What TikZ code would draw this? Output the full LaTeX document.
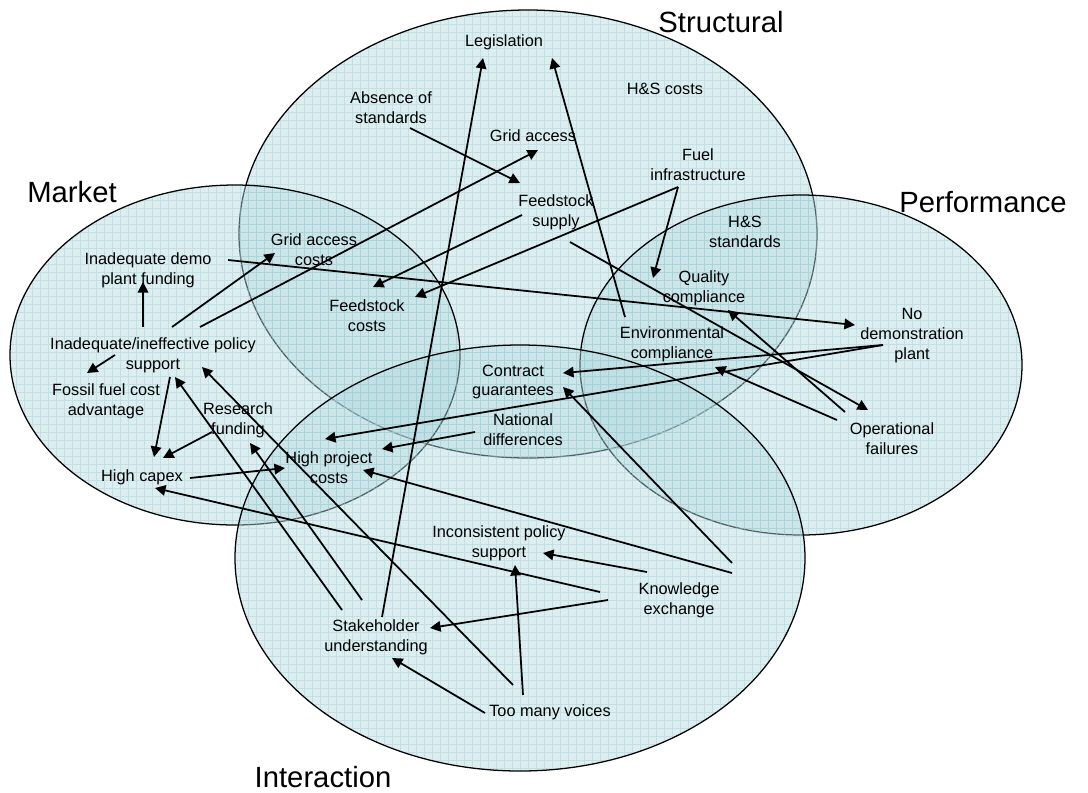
\documentclass[tikz,border=0pt]{standalone}
\usepackage{fontspec}
\setmainfont{Liberation Sans}
\usetikzlibrary{arrows.meta,calc}
\definecolor{zonefill}{RGB}{180,218,224}
\definecolor{zoneline}{RGB}{150,200,208}
\begin{document}
\begin{tikzpicture}[x=0.025cm, y=-0.025cm,
    zone/.style={fill=zonefill, fill opacity=0.45},
    zonegrid/.style={draw=zoneline, line width=0.3pt, opacity=0.4},
    rim/.style={draw=black, line width=0.9pt},
    factor/.style={align=center, inner sep=0pt, font=\fontsize{11.6}{14.2}\selectfont},
    zonelabel/.style={anchor=base, inner sep=0pt, font=\fontsize{20.8}{25}\selectfont},
    arrow/.style={-{Triangle[length=7.5pt,width=7.5pt]}, line width=1.25pt}
]
\useasboundingbox (0,0) rectangle (1088,792);

\fill[zone] (528,234) ellipse [x radius=289, y radius=224];
\begin{scope}
\clip (528,234) ellipse [x radius=289, y radius=224];
\draw[zonegrid] (0,792) grid[step=0.2cm] (1088,0);
\end{scope}
\draw[rim] (528,234) ellipse [x radius=289, y radius=224];

\fill[zone] (801,365) ellipse [x radius=221, y radius=170];
\begin{scope}
\clip (801,365) ellipse [x radius=221, y radius=170];
\draw[zonegrid] (0,792) grid[step=0.2cm] (1088,0);
\end{scope}
\draw[rim] (801,365) ellipse [x radius=221, y radius=170];

\fill[zone] (235,355) ellipse [x radius=225, y radius=170];
\begin{scope}
\clip (235,355) ellipse [x radius=225, y radius=170];
\draw[zonegrid] (0,792) grid[step=0.2cm] (1088,0);
\end{scope}
\draw[rim] (235,355) ellipse [x radius=225, y radius=170];

\fill[zone] (520,558) ellipse [x radius=285, y radius=213];
\begin{scope}
\clip (520,558) ellipse [x radius=285, y radius=213];
\draw[zonegrid] (0,792) grid[step=0.2cm] (1088,0);
\end{scope}
\draw[rim] (520,558) ellipse [x radius=285, y radius=213];

\node[zonelabel] (lmarket) at (72,202) {Market};
\node[zonelabel] (lstruct) at (721,32) {Structural};
\node[zonelabel] (lperf) at (983,212) {Performance};
\node[zonelabel] (linter) at (323,787) {Interaction};

\node[factor] (legis) at (504,42) {Legislation};
\node[factor] (hscost) at (665,89) {H\&S costs};
\node[factor] (absence) at (391,108) {Absence of\\standards};
\node[factor] (gridacc) at (533,136) {Grid access};
\node[factor] (fuelinf) at (698,165) {Fuel\\infrastructure};
\node[factor] (feedsup) at (556,212) {Feedstock\\supply};
\node[factor] (gridcost) at (314,250) {Grid access\\costs};
\node[factor] (demofund) at (148,270) {Inadequate demo\\plant funding};
\node[factor] (hsstd) at (745,232) {H\&S\\standards};
\node[factor] (feedcost) at (367,316) {Feedstock\\costs};
\node[factor] (quality) at (704,288) {Quality\\compliance};
\node[factor] (envcomp) at (672,344) {Environmental\\compliance};
\node[factor] (nodemo) at (912,336) {No\\demonstration\\plant};
\node[factor] (policy) at (153,355) {Inadequate/ineffective policy\\support};
\node[factor] (contract) at (513,382) {Contract\\guarantees};
\node[factor] (fossil) at (106,401) {Fossil fuel cost\\advantage};
\node[factor] (research) at (238,420) {Research\\funding};
\node[factor] (national) at (523,430) {National\\differences};
\node[factor] (opfail) at (892,439) {Operational\\failures};
\node[factor] (capex) at (142,477) {High capex};
\node[factor] (hpcost) at (329,468) {High project\\costs};
\node[factor] (inconsist) at (499,543) {Inconsistent policy\\support};
\node[factor] (knowledge) at (679,600) {Knowledge\\exchange};
\node[factor] (stake) at (376,637) {Stakeholder\\understanding};
\node[factor] (voices) at (550,712) {Too many voices};

\draw[arrow] ($(policy)+(-10,-28)$) -- ($(demofund)+(-5,12)$);
\draw[arrow] ($(policy)+(19,-28)$) -- ($(gridcost)+(-39,3)$);
\draw[arrow] ($(policy)+(47,-28)$) -- ($(gridacc)+(5,14)$);
\draw[arrow] ($(demofund)+(80,-10)$) -- ($(nodemo)+(-57,-11)$);
\draw[arrow] ($(policy)+(-38,0)$) -- ($(fossil)+(-19,-28)$);
\draw[arrow] ($(policy)+(17,22)$) -- ($(capex)+(12,-20)$);
\draw[arrow] ($(research)+(-26,12)$) -- ($(capex)+(21,-19)$);
\draw[arrow] ($(capex)+(48,1)$) -- ($(hpcost)+(-44,0)$);
\draw[arrow] ($(knowledge)+(-79,-8)$) -- ($(capex)+(13,11)$);
\draw[arrow] ($(stake)+(-34,-27)$) -- ($(policy)+(22,22)$);
\draw[arrow] ($(voices)+(-37,-27)$) -- ($(policy)+(49,12)$);
\draw[arrow] ($(stake)+(-14,-37)$) -- ($(research)+(12,23)$);
\draw[arrow] ($(stake)+(6,-20)$) -- ($(legis)+(-21,16)$);
\draw[arrow] ($(envcomp)+(-47,-27)$) -- ($(legis)+(48,16)$);
\draw[arrow] ($(absence)+(19,20)$) -- ($(feedsup)+(-36,-29)$);
\draw[arrow] ($(fuelinf)+(-20,22)$) -- ($(quality)+(-51,-10)$);
\draw[arrow] ($(fuelinf)+(-20,22)$) -- ($(feedcost)+(48,-19)$);
\draw[arrow] ($(feedsup)+(-34,3)$) -- ($(feedcost)+(6,-29)$);
\draw[arrow] ($(feedsup)+(14,30)$) -- ($(opfail)+(-24,-29)$);
\draw[arrow] ($(opfail)+(-47,-27)$) -- ($(quality)+(24,22)$);
\draw[arrow] ($(opfail)+(-55,-19)$) -- ($(envcomp)+(43,23)$);
\draw[arrow] ($(nodemo)+(-29,9)$) -- ($(contract)+(50,-9)$);
\draw[arrow] ($(nodemo)+(-29,9)$) -- ($(hpcost)+(-4,-29)$);
\draw[arrow] ($(national)+(-48,2)$) -- ($(hpcost)+(53,-19)$);
\draw[arrow] ($(knowledge)+(53,-37)$) -- ($(contract)+(50,5)$);
\draw[arrow] ($(knowledge)+(53,-27)$) -- ($(hpcost)+(34,2)$);
\draw[arrow] ($(knowledge)+(-32,-28)$) -- ($(inconsist)+(44,10)$);
\draw[arrow] ($(knowledge)+(-71,0)$) -- ($(stake)+(54,-9)$);
\draw[arrow] ($(voices)+(-27,-17)$) -- ($(inconsist)+(16,22)$);
\draw[arrow] ($(voices)+(-65,1)$) -- ($(stake)+(16,21)$);
\end{tikzpicture}
\end{document}
